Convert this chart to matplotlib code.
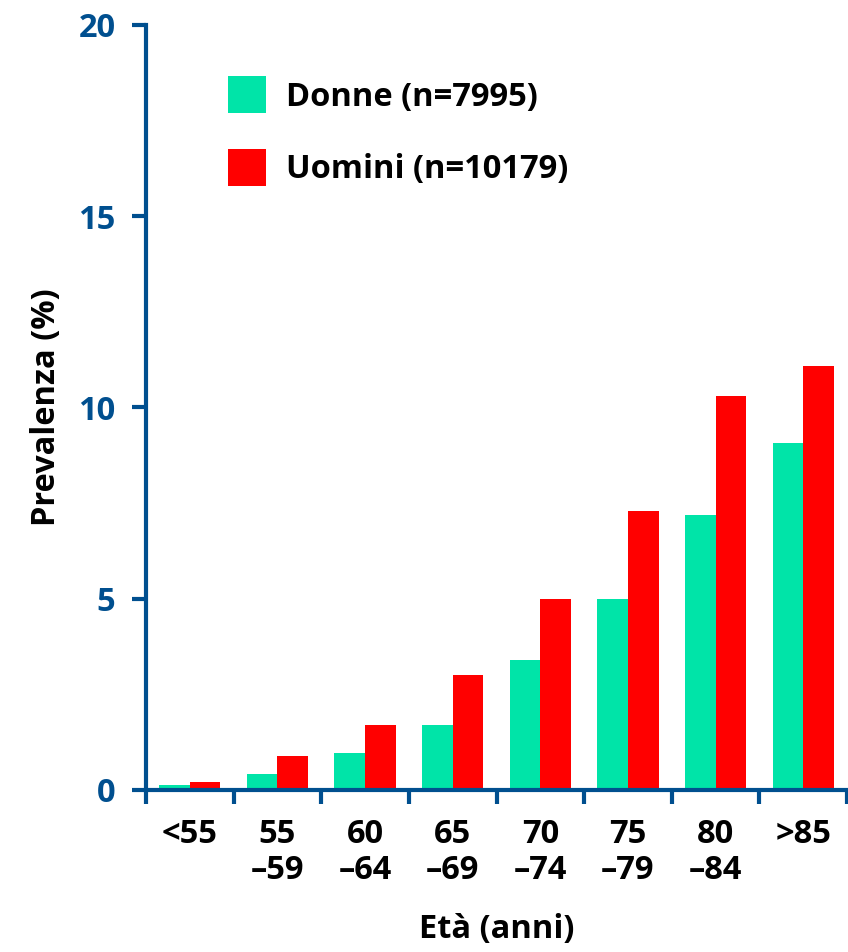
import matplotlib
matplotlib.use("Agg")
from matplotlib import pyplot as plt
import numpy as np

ages = ["<55", "55\n\u201359", "60\n\u201364", "65\n\u201369", "70\n\u201374",
        "75\n\u201379", "80\n\u201384", ">85"]
donne = [0.12, 0.42, 0.97, 1.7, 3.4, 5.0, 7.2, 9.07]
uomini = [0.2, 0.9, 1.7, 3.0, 5.0, 7.3, 10.3, 11.08]
yticks = [0, 5, 10, 15, 20]

plt.rcParams['font.family'] = ['Open Sans', 'DejaVu Sans']
plt.rcParams['font.weight'] = 'bold'

blue = '#004F8F'
green = '#00E4A8'
red = '#FF0000'
fs = 23.5

fig = plt.figure(figsize=(8.48, 9.52), dpi=100, facecolor='w')
ax = fig.add_axes([146 / 848, 162 / 952, 701 / 848, 765 / 952])

x = np.arange(len(ages))
w = 0.35
ax.bar(x - w / 2, donne, w, color=green, label='Donne (n=7995)', zorder=2)
ax.bar(x + w / 2, uomini, w, color=red, label='Uomini (n=10179)', zorder=2)

ax.set_xlim(-0.5, len(ages) - 0.5)
ax.set_ylim(0, 20)
for s in ['top', 'right']:
    ax.spines[s].set_visible(False)
for s in ['left', 'bottom']:
    ax.spines[s].set_color(blue)
    ax.spines[s].set_linewidth(3)
    ax.spines[s].set_zorder(3)

ax.set_yticks(yticks)
ax.set_yticklabels([str(v) for v in yticks], fontsize=fs, color=blue, fontweight='bold')
ax.tick_params(axis='y', length=10, width=3, color=blue, pad=12)

ax.set_xticks(np.arange(len(ages) + 1) - 0.5)
ax.set_xticklabels([])
ax.tick_params(axis='x', which='major', length=10, width=3, color=blue)
ax.set_xticks(x, minor=True)
ax.set_xticklabels(ages, minor=True, fontsize=fs, fontweight='bold', linespacing=1.12, va='top')
ax.tick_params(axis='x', which='minor', length=0, pad=20)

ax.set_ylabel("Prevalenza (%)", fontsize=fs, fontweight='bold', labelpad=11)
ax.set_xlabel("Et\u00e0 (anni)", fontsize=fs, fontweight='bold', labelpad=19)

ax.legend(loc='upper left', bbox_to_anchor=(228 / 848, 1 - 76 / 952),
          bbox_transform=fig.transFigure, frameon=False, borderpad=0,
          borderaxespad=0, handlelength=1.16, handleheight=1.39,
          labelspacing=1.08, handletextpad=0.63, prop={'size': fs, 'weight': 'bold'})

plt.savefig("out.png", dpi=100)
